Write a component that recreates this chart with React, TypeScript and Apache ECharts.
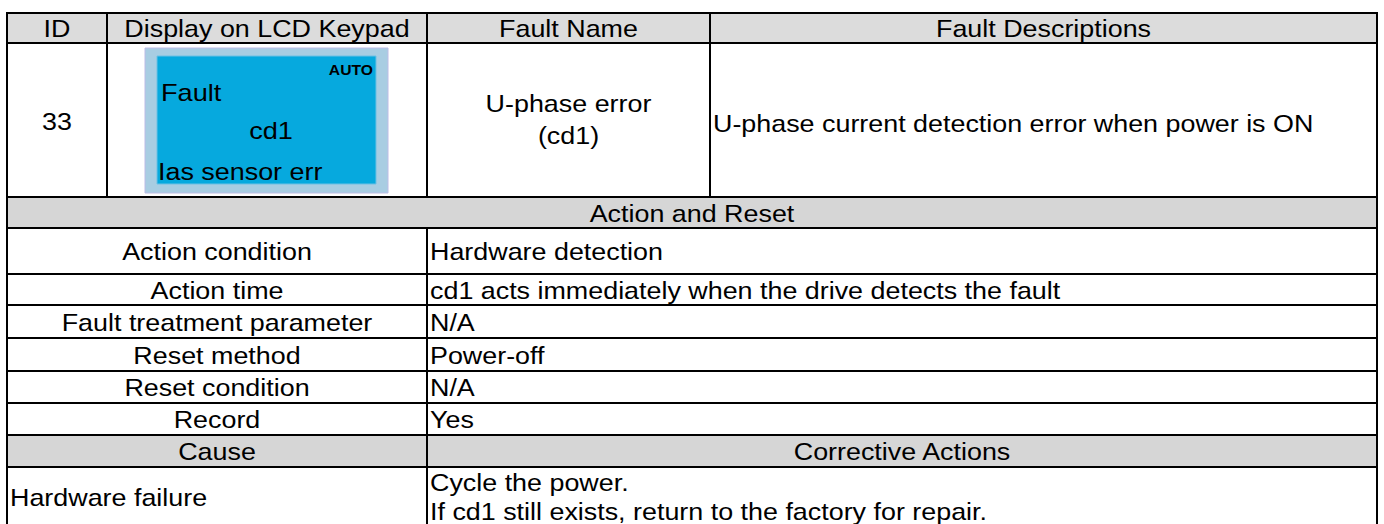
import React, { useEffect, useRef } from "react";
import * as echarts from "echarts";

// ---- table content ----
const headerCells = ["ID", "Display on LCD Keypad", "Fault Name", "Fault Descriptions"];
const faultId = "33";
const lcdLines = ["Fault", "cd1", "Ias sensor err"];
const lcdMode = "AUTO";
const faultNameLines = ["U-phase error", "(cd1)"];
const faultDescription = "U-phase current detection error when power is ON";
const sectionTitle = "Action and Reset";
const actionLabels = [
  "Action condition",
  "Action time",
  "Fault treatment parameter",
  "Reset method",
  "Reset condition",
  "Record",
];
const actionValues = [
  "Hardware detection",
  "cd1 acts immediately when the drive detects the fault",
  "N/A",
  "Power-off",
  "N/A",
  "Yes",
];
const causeHeaders = ["Cause", "Corrective Actions"];
const causes = ["Hardware failure"];
const correctiveLines = [
  "Cycle the power.",
  "If cd1 still exists, return to the factory for repair.",
];

// ---- layout ----
const X0 = 7;
const X1 = 1377;
const COLS = [7, 107, 427, 710, 1377];
const SPLIT = 427;
const ROWS = [13, 43, 197, 228, 274, 305, 338, 371, 403, 435, 467, 540];
const FONT = '"Liberation Sans", Arial, sans-serif';
const FS = 24;
const SX = 1.12;
const LINE = "#000000";
const GRAY_H = "#dcdcdc";
const GRAY = "#d6d6d6";

function txt(x: number, y: number, text: string, align: string, opts: any = {}) {
  return {
    type: "text",
    x,
    y,
    scaleX: opts.sx ?? SX,
    z: 10,
    style: {
      text,
      fill: opts.fill ?? "#000000",
      fontSize: opts.fs ?? FS,
      fontFamily: opts.ff ?? FONT,
      fontWeight: opts.fw ?? "normal",
      align,
      textAlign: align,
      verticalAlign: "middle",
      textVerticalAlign: "middle",
    },
  };
}

function hline(y: number, x1: number, x2: number) {
  return {
    type: "line",
    z: 5,
    shape: { x1, y1: y, x2, y2: y },
    style: { stroke: LINE, lineWidth: 2 },
  };
}
function vline(x: number, y1: number, y2: number) {
  return {
    type: "line",
    z: 5,
    shape: { x1: x, y1, x2: x, y2 },
    style: { stroke: LINE, lineWidth: 2 },
  };
}
function band(y1: number, y2: number, fill: string) {
  return {
    type: "rect",
    z: 1,
    shape: { x: X0, y: y1, width: X1 - X0, height: y2 - y1 },
    style: { fill },
  };
}

export default function App() {
  const ref = useRef<HTMLDivElement>(null);
  useEffect(() => {
    if (!ref.current) return;
    const chart = echarts.init(ref.current, null, { renderer: "svg" });
    const els: any[] = [];
    const mid = (a: number, b: number) => (a + b) / 2;

    // backgrounds
    els.push({ type: "rect", z: 0, shape: { x: 0, y: 0, width: 1384, height: 524 }, style: { fill: "#ffffff" } });
    els.push(band(ROWS[0], ROWS[1], GRAY_H));
    els.push(band(ROWS[2], ROWS[3], GRAY));
    els.push(band(ROWS[9], ROWS[10], GRAY));

    // horizontal lines
    ROWS.slice(0, 11).forEach((y) => els.push(hline(y, X0 - 1, X1 + 1)));
    // vertical lines
    els.push(vline(X0, ROWS[0], 524));
    els.push(vline(X1, ROWS[0], 524));
    els.push(vline(COLS[1], ROWS[0], ROWS[2]));
    els.push(vline(COLS[2], ROWS[0], ROWS[2]));
    els.push(vline(COLS[3], ROWS[0], ROWS[2]));
    els.push(vline(SPLIT, ROWS[3], 524));

    // header
    headerCells.forEach((h, i) => {
      els.push(txt(mid(COLS[i], COLS[i + 1]), mid(ROWS[0], ROWS[1]) + 1, h, "center"));
    });

    // row: id 33
    els.push(txt(mid(COLS[0], COLS[1]), 122, faultId, "center"));
    // LCD
    els.push({
      type: "rect",
      z: 2,
      shape: { x: 145, y: 48, width: 243, height: 145 },
      style: { fill: "#a8cde2", stroke: "#bcbce6", lineWidth: 1 },
    });
    els.push({
      type: "rect",
      z: 3,
      shape: { x: 157, y: 56, width: 219, height: 128 },
      style: { fill: "#06a9de", stroke: "#6cc0e4", lineWidth: 1 },
    });
    els.push(txt(373, 70, lcdMode, "right", { fs: 14, fw: "bold", sx: 1.12 }));
    els.push(txt(161, 93, lcdLines[0], "left", { fs: 23, sx: 1.18 }));
    els.push(txt(271, 131, lcdLines[1], "center", { fs: 23, sx: 1.18 }));
    els.push(txt(158, 172, lcdLines[2], "left", { fs: 23, sx: 1.17 }));

    // fault name
    els.push(txt(mid(COLS[2], COLS[3]), 104, faultNameLines[0], "center"));
    els.push(txt(mid(COLS[2], COLS[3]), 136, faultNameLines[1], "center"));
    // description
    els.push(txt(COLS[3] + 3, 124, faultDescription, "left"));

    // section title
    els.push(txt(mid(X0, X1), mid(ROWS[2], ROWS[3]) + 1, sectionTitle, "center"));

    // action rows
    actionLabels.forEach((lab, i) => {
      const y = mid(ROWS[3 + i], ROWS[4 + i]) + 1;
      els.push(txt(mid(X0, SPLIT), y, lab, "center"));
      els.push(txt(SPLIT + 3, y, actionValues[i], "left"));
    });

    // cause header
    els.push(txt(mid(X0, SPLIT), mid(ROWS[9], ROWS[10]) + 1, causeHeaders[0], "center"));
    els.push(txt(mid(SPLIT, X1), mid(ROWS[9], ROWS[10]) + 1, causeHeaders[1], "center"));

    // cause row
    els.push(txt(X0 + 3, 498, causes[0], "left"));
    els.push(txt(SPLIT + 3, 483, correctiveLines[0], "left"));
    els.push(txt(SPLIT + 3, 512, correctiveLines[1], "left"));

    chart.setOption({
      animation: false,
      graphic: { elements: els },
    });
    return () => chart.dispose();
  }, []);
  return (
    <div
      ref={ref}
      style={{ position: "fixed", left: 0, top: 0, width: 1384, height: 524, background: "#fff" }}
    />
  );
}
